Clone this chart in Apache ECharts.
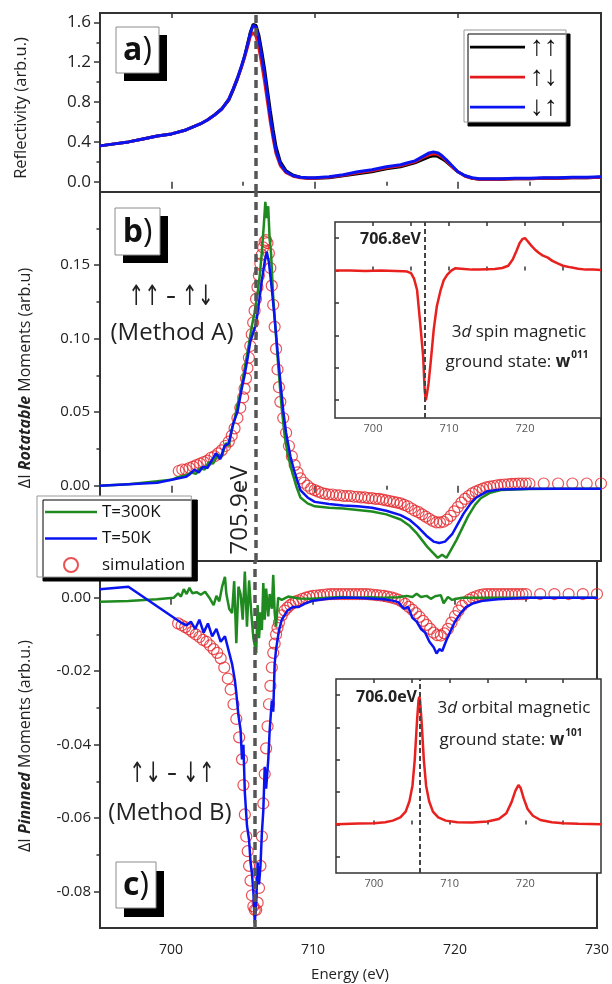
<!DOCTYPE html>
<html>
<head>
<meta charset="utf-8">
<script src="https://cdn.jsdelivr.net/npm/echarts@6/dist/echarts.min.js"></script>
<style>
html, body { margin: 0; padding: 0; background: #fff; }
#main { width: 612px; height: 984px; }
</style>
</head>
<body>
<div id="main"></div>
<script>
// ---------------- data ----------------
// panel a: reflectivity
var reflE = [695, 696, 697, 698, 699, 700, 701, 702, 702.5, 703, 703.5, 704, 704.3, 704.6, 704.9,
  705.1, 705.3, 705.5, 705.7, 705.9, 706.1, 706.3, 706.5, 706.7, 706.9, 707.1, 707.3, 707.6, 708,
  708.5, 709, 709.5, 710, 711, 712, 713, 714, 715, 716, 716.5, 717, 717.5, 718, 718.3, 718.6, 718.9,
  719.2, 719.6, 720, 720.5, 721, 721.5, 722, 723, 724, 725, 726, 727, 728, 729, 730];
var reflUU = [0.36, 0.38, 0.40, 0.43, 0.46, 0.48, 0.52, 0.58, 0.62, 0.67, 0.73, 0.82, 0.92, 1.03, 1.16,
  1.26, 1.38, 1.50, 1.58, 1.57, 1.47, 1.31, 1.13, 0.92, 0.71, 0.52, 0.35, 0.20, 0.11,
  0.065, 0.045, 0.035, 0.035, 0.04, 0.06, 0.08, 0.10, 0.13, 0.15, 0.17, 0.19, 0.22, 0.25, 0.26, 0.255, 0.23,
  0.20, 0.15, 0.10, 0.06, 0.035, 0.025, 0.025, 0.025, 0.03, 0.03, 0.035, 0.035, 0.04, 0.04, 0.045];
var reflUD = [0.36, 0.38, 0.40, 0.43, 0.46, 0.48, 0.52, 0.58, 0.62, 0.67, 0.73, 0.83, 0.93, 1.04, 1.16,
  1.25, 1.35, 1.46, 1.50, 1.46, 1.34, 1.18, 1.00, 0.80, 0.60, 0.43, 0.28, 0.16, 0.09,
  0.055, 0.04, 0.035, 0.035, 0.045, 0.065, 0.09, 0.11, 0.14, 0.16, 0.18, 0.20, 0.24, 0.27, 0.28, 0.275, 0.25,
  0.21, 0.15, 0.10, 0.055, 0.035, 0.025, 0.025, 0.025, 0.03, 0.03, 0.035, 0.035, 0.04, 0.04, 0.045];
var reflDU = [0.36, 0.38, 0.40, 0.43, 0.46, 0.48, 0.52, 0.58, 0.62, 0.67, 0.73, 0.83, 0.93, 1.04, 1.17,
  1.26, 1.37, 1.49, 1.57, 1.55, 1.43, 1.26, 1.08, 0.87, 0.65, 0.47, 0.31, 0.18, 0.10,
  0.06, 0.045, 0.04, 0.04, 0.05, 0.07, 0.10, 0.12, 0.15, 0.17, 0.19, 0.21, 0.25, 0.29, 0.30, 0.29, 0.26,
  0.22, 0.16, 0.10, 0.06, 0.04, 0.03, 0.03, 0.03, 0.035, 0.035, 0.04, 0.04, 0.045, 0.045, 0.05];

// panel b: rotatable moments [energy, value]
var bGreen = [[695, 0], [697, 0.001], [699, 0.003], [700, 0.004], [700.5, 0.006], [701, 0.007], [701.4, 0.009],
  [701.7, 0.008], [702, 0.012], [702.3, 0.011], [702.6, 0.016], [702.9, 0.015], [703.2, 0.021], [703.5, 0.02],
  [703.8, 0.029], [704, 0.027], [704.2, 0.038], [704.4, 0.045], [704.6, 0.055], [704.8, 0.062], [705, 0.074],
  [705.2, 0.085], [705.4, 0.096], [705.6, 0.108], [705.8, 0.118], [706, 0.13], [706.15, 0.142], [706.3, 0.158],
  [706.45, 0.178], [706.55, 0.193], [706.65, 0.182], [706.75, 0.19], [706.85, 0.168], [706.95, 0.158],
  [707.1, 0.128], [707.25, 0.108], [707.4, 0.088], [707.55, 0.07], [707.7, 0.052], [707.9, 0.034], [708.1, 0.022],
  [708.4, 0.01], [708.7, 0], [709, -0.008], [709.5, -0.012], [710, -0.014], [711, -0.015], [712, -0.0155],
  [713, -0.0165], [714, -0.0175], [715, -0.0195], [716, -0.023], [716.6, -0.027], [717.1, -0.032], [717.5, -0.037],
  [717.9, -0.042], [718.3, -0.046], [718.6, -0.049], [718.9, -0.047], [719.2, -0.049], [719.5, -0.044],
  [719.9, -0.037], [720.3, -0.029], [720.7, -0.021], [721.2, -0.013], [721.6, -0.0085], [722.2, -0.005],
  [723, -0.003], [725, -0.0022], [727, -0.002], [730, -0.002]];
var bBlue = [[695, 0], [697, 0.001], [699, 0.002], [700, 0.004], [700.5, 0.005], [701, 0.006], [701.3, 0.008],
  [701.6, 0.011], [701.9, 0.009], [702.2, 0.013], [702.5, 0.012], [702.8, 0.017], [703.1, 0.022], [703.4, 0.018],
  [703.7, 0.027], [704, 0.029], [704.3, 0.042], [704.6, 0.05], [704.9, 0.066], [705.1, 0.075], [705.3, 0.086],
  [705.5, 0.098], [705.7, 0.104], [705.9, 0.11], [706.1, 0.124], [706.3, 0.139], [706.5, 0.152], [706.65, 0.159],
  [706.8, 0.152], [707, 0.134], [707.2, 0.114], [707.4, 0.092], [707.6, 0.071], [707.8, 0.051], [708, 0.036],
  [708.3, 0.02], [708.6, 0.009], [709, -0.003], [709.5, -0.008], [710, -0.011], [711, -0.0125], [712, -0.0135],
  [713, -0.014], [714, -0.015], [715, -0.017], [716, -0.02], [716.6, -0.023], [717.2, -0.028], [717.8, -0.034],
  [718.3, -0.038], [718.7, -0.039], [719.1, -0.038], [719.6, -0.033], [720, -0.026], [720.4, -0.019],
  [720.9, -0.012], [721.3, -0.008], [722, -0.004], [723, -0.0025], [725, -0.002], [730, -0.002]];

// simulation energies, shared by panels b and c
var simE = [700.5, 700.75, 701, 701.25, 701.5, 701.75, 702, 702.25, 702.5, 702.75,
  703, 703.25, 703.5, 703.75, 704, 704.2, 704.4, 704.6, 704.8, 705,
  705.1, 705.2, 705.3, 705.4, 705.5, 705.6, 705.7, 705.8, 705.9, 706,
  706.1, 706.2, 706.3, 706.4, 706.5, 706.6, 706.7, 706.8, 706.9, 707,
  707.1, 707.2, 707.3, 707.4, 707.5, 707.6, 707.8, 708, 708.2, 708.4,
  708.6, 708.8, 709, 709.25, 709.5, 709.75, 710, 710.25, 710.5, 710.75,
  711, 711.25, 711.5, 711.75, 712, 712.25, 712.5, 712.75, 713, 713.25,
  713.5, 713.75, 714, 714.25, 714.5, 714.75, 715, 715.25, 715.5, 715.75,
  716, 716.25, 716.5, 716.75, 717, 717.25, 717.5, 717.75, 718, 718.25,
  718.5, 718.75, 719, 719.25, 719.5, 719.75, 720, 720.25, 720.5, 720.75,
  721, 721.25, 721.5, 721.75, 722, 722.25, 722.5, 722.75, 723, 723.25,
  723.5, 723.75, 724, 724.25, 724.5, 724.75, 725, 726, 727, 728,
  729, 730];
var simB = [0.010, 0.011, 0.011, 0.012, 0.013, 0.014, 0.015, 0.016, 0.017, 0.019,
  0.020, 0.022, 0.024, 0.027, 0.030, 0.034, 0.039, 0.046, 0.053, 0.060,
  0.066, 0.073, 0.080, 0.087, 0.095, 0.103, 0.111, 0.119, 0.127, 0.135,
  0.143, 0.151, 0.157, 0.162, 0.166, 0.167, 0.165, 0.158, 0.148, 0.136,
  0.123, 0.108, 0.093, 0.079, 0.067, 0.057, 0.046, 0.036, 0.027, 0.020,
  0.014, 0.009, 0.005, 0.002, 0.0, -0.002, -0.003, -0.004, -0.005, -0.0055,
  -0.006, -0.006, -0.0065, -0.0065, -0.007, -0.007, -0.007, -0.0075, -0.0075, -0.008,
  -0.008, -0.0085, -0.0085, -0.009, -0.009, -0.0095, -0.010, -0.0105, -0.011, -0.0115,
  -0.012, -0.013, -0.014, -0.0155, -0.017, -0.018, -0.0195, -0.021, -0.0225, -0.024,
  -0.025, -0.025, -0.0245, -0.023, -0.0205, -0.0175, -0.0145, -0.0115, -0.009, -0.007,
  -0.0052, -0.004, -0.003, -0.002, -0.0012, -0.0006, -0.0002, 0.0002, 0.0005, 0.0008,
  0.001, 0.0012, 0.0013, 0.0014, 0.0015, 0.0015, 0.0015, 0.0015, 0.0015, 0.0015,
  0.0015, 0.0015];
var simC = [-0.007, -0.0075, -0.008, -0.0086, -0.0093, -0.010, -0.0107, -0.0115, -0.012, -0.013,
  -0.014, -0.015, -0.0165, -0.019, -0.022, -0.025, -0.029, -0.033, -0.038, -0.044,
  -0.051, -0.059, -0.065, -0.069, -0.073, -0.077, -0.081, -0.084, -0.085, -0.085,
  -0.083, -0.079, -0.073, -0.065, -0.056, -0.048, -0.041, -0.035, -0.029, -0.024,
  -0.019, -0.015, -0.0125, -0.010, -0.0082, -0.0068, -0.0048, -0.0035, -0.0027, -0.002,
  -0.0015, -0.001, -0.0007, -0.0003, 0.0, 0.0003, 0.0005, 0.0006, 0.0007, 0.0008,
  0.0009, 0.001, 0.001, 0.001, 0.001, 0.001, 0.001, 0.001, 0.001, 0.001,
  0.001, 0.001, 0.0009, 0.0008, 0.0007, 0.0006, 0.0005, 0.0003, 0.0001, -0.0002,
  -0.0005, -0.001, -0.0017, -0.0025, -0.0033, -0.0042, -0.0052, -0.0063, -0.0074, -0.0085,
  -0.0095, -0.0102, -0.0103, -0.0097, -0.0085, -0.0068, -0.005, -0.0035, -0.0022, -0.0012,
  -0.0005, 0.0, 0.0004, 0.0007, 0.0009, 0.001, 0.001, 0.001, 0.001, 0.001,
  0.001, 0.001, 0.001, 0.001, 0.001, 0.001, 0.001, 0.001, 0.001, 0.001,
  0.001, 0.001];

// panel c: pinned moments [energy, value]
var cGreen = [[695, -0.0011], [697, -0.0009], [699, -0.0004], [700.2, 0], [700.5, 0.0012], [700.7, 0.0003],
  [700.9, 0.0023], [701.1, 0.001], [701.3, 0.0027], [701.5, 0.0012], [701.8, 0.0015], [702.1, 0.0008],
  [702.4, 0.0016], [702.7, 0], [703, -0.002], [703.2, 0.0005], [703.4, -0.001], [703.6, 0.003], [703.8, 0.0057],
  [703.9, 0.001], [704.1, -0.003], [704.3, -0.0042], [704.45, 0.0045], [704.6, -0.0124], [704.75, 0.003],
  [704.9, 0.001], [705.05, -0.006], [705.2, 0.0071], [705.35, -0.0079], [705.5, 0.0047], [705.65, -0.004],
  [705.8, -0.011], [706, -0.0151], [706.1, -0.002], [706.2, -0.011], [706.3, -0.004], [706.4, -0.0088],
  [706.5, 0.004], [706.6, -0.006], [706.7, 0.0025], [706.85, -0.0051], [706.95, 0.001], [707.1, -0.003],
  [707.2, 0.0062], [707.3, -0.004], [707.4, -0.0079], [707.55, 0], [707.8, -0.0006], [708.25, 0.0003],
  [709, -0.0002], [710, -0.0003], [711, 0], [712, 0.0002], [713, 0], [714, 0.0001], [715, 0], [716, 0.0001],
  [716.6, 0.0005], [717, 0.0002], [717.3, 0.0011], [717.6, 0.0002], [718, 0.0005], [718.3, -0.0003],
  [718.6, 0.0004], [719, 0.0007], [719.2, -0.0015], [719.5, 0.0002], [719.8, -0.0006], [720.1, -0.0003],
  [720.5, 0], [721.6, 0], [725, 0], [730, 0]];
var cBlue = [[695, 0.0023], [697, 0.003], [700.8, -0.007], [701.1, -0.0075], [701.4, -0.0065], [701.7, -0.0085],
  [702, -0.006], [702.3, -0.0095], [702.6, -0.007], [702.9, -0.0105], [703.2, -0.0085], [703.5, -0.012],
  [703.8, -0.0105], [704.1, -0.015], [704.3, -0.018], [704.5, -0.0225], [704.6, -0.026], [704.75, -0.032],
  [704.9, -0.036], [705, -0.044], [705.1, -0.04], [705.2, -0.053], [705.35, -0.062], [705.5, -0.066],
  [705.6, -0.072], [705.7, -0.075], [705.8, -0.08], [705.9, -0.0886], [706, -0.083], [706.1, -0.072],
  [706.2, -0.078], [706.3, -0.073], [706.4, -0.064], [706.5, -0.058], [706.6, -0.046], [706.7, -0.052],
  [706.85, -0.044], [706.95, -0.036], [707.1, -0.028], [707.2, -0.031], [707.3, -0.018], [707.4, -0.014],
  [707.6, -0.009], [707.8, -0.006], [708.2, -0.0035], [708.6, -0.0025], [709, -0.0025], [709.5, -0.0015],
  [710, -0.0008], [711, -0.0003], [712, 0], [713, 0], [714, -0.0002], [715, -0.0004], [715.6, -0.0008],
  [716, -0.0012], [716.4, -0.003], [716.7, -0.0025], [717, -0.0055], [717.3, -0.0065], [717.6, -0.0085],
  [717.9, -0.0095], [718.2, -0.012], [718.5, -0.0135], [718.7, -0.0152], [718.9, -0.014], [719.1, -0.0145],
  [719.4, -0.0115], [719.7, -0.009], [720, -0.0065], [720.4, -0.0042], [720.8, -0.0025], [721.3, -0.0015],
  [722, -0.0008], [723, -0.0004], [725, 0], [730, 0]];

// insets: ground-state spectra (arb. units)
var spinE = [695, 697, 699, 701, 703, 704, 704.5, 705, 705.4, 705.8, 706.2, 706.6, 706.8, 706.95, 707.1,
  707.3, 707.6, 708, 708.4, 708.9, 709.3, 709.75, 710.3, 710.8, 712, 713, 714, 715, 716, 717, 717.8, 718.4,
  718.9, 719.3, 719.7, 720, 720.3, 720.8, 721.3, 721.8, 722.3, 723, 723.6, 724.3, 725, 726, 727, 728, 729, 730];
var spinV = [0, 0, -0.01, 0, -0.01, -0.02, -0.03, -0.08, -0.25, -0.6, -1.6, -2.65, -3.7, -4.0, -3.8,
  -3.5, -2.8, -1.8, -1.1, -0.6, -0.3, -0.13, 0, 0.07, 0.05, 0.03, 0.03, 0.04, 0.05, 0.08, 0.15, 0.35,
  0.62, 0.85, 0.98, 1.0, 0.92, 0.78, 0.65, 0.55, 0.47, 0.4, 0.3, 0.22, 0.15, 0.1, 0.06, 0.03, 0.03, 0.02];
var orbE = [695, 698, 700, 701.5, 702.5, 703.5, 704.2, 704.7, 705.1, 705.4, 705.7, 705.9, 706, 706.1, 706.3,
  706.6, 706.9, 707.3, 707.8, 708.5, 709.5, 711, 713, 715, 716.5, 717.5, 718.2, 718.7, 719.1, 719.4, 719.8,
  720.3, 721, 722, 723.5, 725, 727, 730];
var orbV = [0.01, 0.03, 0.04, 0.07, 0.12, 0.22, 0.4, 0.72, 1.2, 2.0, 3.2, 3.85, 3.95, 3.85, 3.2,
  2.0, 1.2, 0.72, 0.4, 0.22, 0.12, 0.07, 0.06, 0.09, 0.17, 0.35, 0.7, 1.05, 1.22, 1.12, 0.8,
  0.48, 0.27, 0.14, 0.07, 0.04, 0.02, 0.01];

// ticks and marker energies
var xMajor = [700, 710, 720, 730];
var xMinor = [705, 715, 725];
var xInsetTicks = [700, 705, 710, 715, 720, 725];
var xInsetLabels = [700, 710, 720];
var aTicks = [0, 0.4, 0.8, 1.2, 1.6];
var aMinor = [0.2, 0.6, 1.0, 1.4];
var bTicks = [0, 0.05, 0.1, 0.15];
var bMinor = [0.025, 0.075, 0.125, 0.175];
var cTicks = [0, -0.02, -0.04, -0.06, -0.08];
var cMinor = [-0.01, -0.03, -0.05, -0.07];
var spinTicks = [-4, -3, -2, -1, 0, 1];
var orbTicks = [-1, 0, 1, 2, 3, 4];
var peakMain = 705.9, peakSpin = 706.8, peakOrb = 706.0;

// ---------------- chart ----------------
var FONT = 'Open Sans';
var ARROWFONT = 'DejaVu Sans';
var AXC = '#333';
var UP = '\u2191', DN = '\u2193';
var LINEICON = 'path://M0,0 L60,0 L60,3 L0,3 Z';

function zip(xs, ys) {
  return xs.map(function (x, i) { return [x, ys[i]]; });
}

function xAx(grid, pos, ticks, len, inside, labels) {
  return {
    type: 'value', gridIndex: grid, position: pos, min: 695, max: 730,
    axisLine: { show: false }, splitLine: { show: false },
    axisTick: { show: true, inside: inside, length: len, customValues: ticks, lineStyle: { color: AXC, width: 1.5 } },
    axisLabel: labels ? { show: true, customValues: labels.vals, fontSize: labels.size, color: labels.color,
      fontFamily: FONT, margin: labels.margin } : { show: false }
  };
}

function yAx(grid, min, max, ticks, len, inside, labels) {
  return {
    type: 'value', gridIndex: grid, position: 'left', min: min, max: max,
    axisLine: { show: false }, splitLine: { show: false },
    axisTick: { show: true, inside: inside, length: len, customValues: ticks, lineStyle: { color: AXC, width: 1.5 } },
    axisLabel: labels ? { show: true, customValues: ticks, fontSize: labels.size, color: '#222',
      fontFamily: FONT, margin: labels.margin, formatter: function (v) { return v.toFixed(labels.dec); } } : { show: false }
  };
}

var dashMain = {
  silent: true, symbol: ['none', 'none'], label: { show: false },
  lineStyle: { color: '#555', width: 3.5, type: [8, 5] },
  data: [{ xAxis: peakMain }]
};
function dashInset(x) {
  return {
    silent: true, symbol: ['none', 'none'], label: { show: false },
    lineStyle: { color: '#444', width: 2, type: [5, 3] },
    data: [{ xAxis: x }]
  };
}

function line(name, data, xi, yi, color, w, mark) {
  var s = {
    name: name, type: 'line', data: data, xAxisIndex: xi, yAxisIndex: yi,
    symbol: 'none', lineStyle: { color: color, width: w }, itemStyle: { color: color }
  };
  if (mark) s.markLine = mark;
  return s;
}

function sim(data, xi, yi) {
  return {
    name: 'simulation', type: 'scatter', data: data, xAxisIndex: xi, yAxisIndex: yi,
    symbol: 'circle', symbolSize: 11,
    itemStyle: { color: 'rgba(0,0,0,0)', borderColor: '#e4262b', borderWidth: 1.2 },
    markLine: dashMain
  };
}

var gridBorder = { show: true, borderColor: AXC, borderWidth: 2, backgroundColor: 'transparent' };
var insetBorder = { show: true, borderColor: AXC, borderWidth: 1.5, backgroundColor: '#fff' };

function panelBox(x, y, w, h, letter, sx, sy) {
  return [
    { type: 'rect', z: 50, shape: { x: x + sx, y: y + sy, width: w, height: h }, style: { fill: '#000' } },
    { type: 'rect', z: 51, shape: { x: x, y: y, width: w, height: h }, style: { fill: '#fff', stroke: '#8c8c8c', lineWidth: 1 } },
    { type: 'text', z: 52, x: x + w / 2, y: y + h / 2 + 1, style: {
      text: '{b|' + letter + '}{p|)}', textAlign: 'center', textVerticalAlign: 'middle',
      rich: {
        b: { fontFamily: FONT, fontWeight: 'bold', fontSize: 32, fill: '#111' },
        p: { fontFamily: FONT, fontWeight: 'normal', fontSize: 32, fill: '#111' }
      }
    } }
  ];
}

function txt(x, y, text, size, opts) {
  opts = opts || {};
  return {
    type: 'text', z: 60, x: x, y: y, rotation: opts.rot || 0, scaleX: opts.sx || 1,
    style: {
      text: text, textAlign: opts.align || 'center', textVerticalAlign: 'middle',
      fontFamily: opts.family || FONT, fontSize: size, fontWeight: opts.weight || 'normal',
      fill: opts.color || '#222', rich: opts.rich
    }
  };
}

function richSet(size) {
  return {
    n: { fontFamily: FONT, fontSize: size, fill: '#222' },
    bi: { fontFamily: FONT, fontSize: size, fontWeight: 'bold', fontStyle: 'italic', fill: '#222' },
    i: { fontFamily: FONT, fontSize: size, fontStyle: 'italic', fill: '#222' },
    w: { fontFamily: FONT, fontSize: size, fontWeight: 'bold', fill: '#222' },
    s: { fontFamily: FONT, fontSize: 10, fontWeight: 'bold', fill: '#222', padding: [0, 0, 14, 1] }
  };
}

var myChart = echarts.init(document.getElementById('main'));

var option = {
  animation: false,
  backgroundColor: '#fff',
  grid: [
    Object.assign({ left: 100, top: 13, width: 501, height: 179 }, gridBorder),
    Object.assign({ left: 100, top: 192, width: 501, height: 369 }, gridBorder),
    Object.assign({ left: 100, top: 561, width: 501, height: 367 }, gridBorder),
    Object.assign({ left: 335, top: 222, width: 266, height: 196 }, insetBorder),
    Object.assign({ left: 336, top: 679, width: 265, height: 194 }, insetBorder)
  ],
  xAxis: [
    xAx(0, 'bottom', xMajor, 7, false),
    xAx(0, 'bottom', xMinor, 4, false),
    xAx(0, 'top', [700, 710, 720], 5, true),
    xAx(1, 'bottom', xMajor, 7, false),
    xAx(1, 'bottom', xMinor, 4, false),
    xAx(2, 'bottom', xMajor, 7, false, { vals: xMajor, size: 14, color: '#222', margin: 15 }),
    xAx(2, 'bottom', xMinor, 4, false),
    xAx(3, 'bottom', xInsetTicks, 4, true, { vals: xInsetLabels, size: 11, color: '#555', margin: 5 }),
    xAx(3, 'top', xInsetTicks, 4, true),
    xAx(4, 'bottom', xInsetTicks, 4, true, { vals: xInsetLabels, size: 11, color: '#555', margin: 5 }),
    xAx(4, 'top', xInsetTicks, 4, true)
  ],
  yAxis: [
    yAx(0, -0.103, 1.694, aTicks, 6, false, { size: 17, margin: 9, dec: 1 }),
    yAx(0, -0.103, 1.694, aMinor, 3.5, false),
    yAx(1, -0.0512, 0.1997, bTicks, 6, false, { size: 15, margin: 10, dec: 2 }),
    yAx(1, -0.0512, 0.1997, bMinor, 3.5, false),
    yAx(2, -0.0899, 0.00999, cTicks, 6, false, { size: 15, margin: 9, dec: 2 }),
    yAx(2, -0.0899, 0.00999, cMinor, 3.5, false),
    yAx(3, -4.55, 1.5, spinTicks, 4, true),
    yAx(4, -1.5, 4.5, orbTicks, 4, true)
  ],
  legend: [
    {
      data: [
        { name: UP + UP, icon: LINEICON },
        { name: UP + DN, icon: LINEICON },
        { name: DN + UP, icon: LINEICON }
      ],
      orient: 'vertical', left: 464, top: 30,
      padding: [2, 8, 0, 6], itemWidth: 55, itemHeight: 20, itemGap: 0, selectedMode: false,
      backgroundColor: '#fff', borderColor: '#999', borderWidth: 1,
      shadowColor: '#000', shadowBlur: 0, shadowOffsetX: 4, shadowOffsetY: 4,
      textStyle: { fontFamily: 'Liberation Sans', fontSize: 28, lineHeight: 30, color: '#111' }
    },
    {
      data: [
        { name: 'T=300K', icon: LINEICON },
        { name: 'T=50K', icon: LINEICON },
        { name: 'simulation' }
      ],
      orient: 'vertical', left: 37, top: 496,
      padding: [7, 6, 3, 8], itemWidth: 52, itemHeight: 14, itemGap: 8.5, selectedMode: false,
      backgroundColor: '#fff', borderColor: '#999', borderWidth: 1,
      shadowColor: '#000', shadowBlur: 0, shadowOffsetX: 6, shadowOffsetY: 4,
      textStyle: { fontFamily: FONT, fontSize: 17, lineHeight: 18, color: '#111' }
    }
  ],
  series: [
    line(UP + UP, zip(reflE, reflUU), 0, 0, '#000', 3),
    line(UP + DN, zip(reflE, reflUD), 0, 0, '#e41a1c', 3),
    line(DN + UP, zip(reflE, reflDU), 0, 0, '#0a14f0', 3, dashMain),
    line('T=300K', bGreen, 3, 2, '#1f8a1f', 2.5),
    line('T=50K', bBlue, 3, 2, '#0a14f0', 2.5),
    sim(zip(simE, simB), 3, 2),
    line('T=300K', cGreen, 5, 4, '#1f8a1f', 2.5),
    line('T=50K', cBlue, 5, 4, '#0a14f0', 2.5),
    sim(zip(simE, simC), 5, 4),
    line('', zip(spinE, spinV), 7, 6, '#e8201e', 2.5, dashInset(peakSpin)),
    line('', zip(orbE, orbV), 9, 7, '#e8201e', 2.5, dashInset(peakOrb))
  ],
  graphic: [].concat(
    panelBox(116, 27, 43, 46, 'a', 8, 8),
    panelBox(115, 208, 45, 47, 'b', 8, 8),
    panelBox(116, 862, 40, 46, 'c', 8, 9),
    [
      txt(21, 108, 'Reflectivity (arb.u.)', 16.5, { rot: Math.PI / 2 }),
      txt(25, 378, '{n|\u0394I }{bi|Rotatable}{n| Moments (arb.u)}', 16, { rot: Math.PI / 2, rich: richSet(16) }),
      txt(25, 746, '{n|\u0394I }{bi|Pinnned}{n| Moments (arb.u.)}', 16, { rot: Math.PI / 2, rich: richSet(16) }),
      txt(350, 975, 'Energy (eV)', 15),
      txt(171, 298, UP + UP + ' \u2013 ' + UP + DN, 28, { family: ARROWFONT, sx: 0.68 }),
      txt(172, 333, '(Method A)', 24),
      txt(172, 775, UP + DN + ' \u2013 ' + DN + UP, 28, { family: ARROWFONT, sx: 0.68 }),
      txt(170, 813, '(Method B)', 24),
      txt(240, 510, '705.9eV', 24, { rot: Math.PI / 2 }),
      txt(421, 239, '706.8eV', 16, { align: 'right', weight: 'bold' }),
      txt(417, 697, '706.0eV', 16, { align: 'right', weight: 'bold' }),
      txt(519, 332, '{n|3}{i|d}{n| spin magnetic}', 17, { rich: richSet(17) }),
      txt(517, 362, '{n|ground state: }{w|w}{s|011}', 17, { rich: richSet(17) }),
      txt(514, 708, '{n|3}{i|d}{n| orbital magnetic}', 17, { rich: richSet(17) }),
      txt(511, 740, '{n|ground state: }{w|w}{s|101}', 17, { rich: richSet(17) })
    ]
  )
};

myChart.setOption(option);
</script>
</body>
</html>
